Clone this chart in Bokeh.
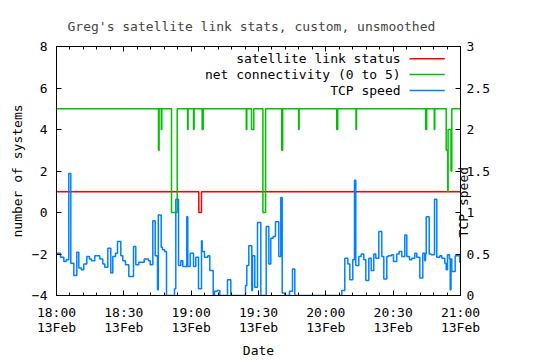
import math
from bokeh.plotting import figure
from bokeh.models import Range1d, LinearAxis, FixedTicker, Label, Arrow
from bokeh.embed import file_html
from bokeh.resources import INLINE

# ---- data: time in minutes after 18:00, 13 Feb ----
tcp_t = [0.0, 1.78, 3.25, 4.32, 5.48, 6.37, 7.71, 9.04, 9.94, 11.14, 12.16, 13.50, 14.70, 15.59,
         17.06, 19.29, 20.63, 21.52, 22.86, 24.19, 25.08, 26.29, 27.18, 28.65, 29.54, 30.74,
         32.21, 34.31, 35.33, 36.67, 39.07, 40.99, 41.75, 42.91, 43.98, 45.00, 45.36, 46.65,
         47.23, 48.12, 49.01, 52.57, 53.15, 54.36, 55.38, 56.27, 58.05, 58.50, 59.57, 61.04,
         62.06, 63.27, 64.60, 64.91, 65.94, 67.41, 68.30, 69.82, 70.40, 71.60, 72.76, 76.19,
         77.66, 84.21, 84.79, 85.68, 87.01, 87.33, 88.35, 89.55, 91.03, 93.43, 94.59, 95.48,
         96.55, 97.57, 99.04, 99.94, 100.56, 101.72, 103.81, 105.15, 106.17, 127.11, 128.45,
         129.79, 130.68, 132.01, 132.77, 133.35, 134.69, 135.76, 136.91, 137.81, 139.14,
         140.21, 141.37, 142.26, 143.60, 144.93, 145.83, 147.16, 147.92, 149.26, 150.15,
         151.62, 152.69, 153.85, 155.18, 156.08, 157.28, 158.30, 159.64, 160.53, 161.87,
         163.20, 164.09, 164.41, 164.72, 166.05, 166.95, 168.42, 169.44, 170.78, 171.67,
         173.01, 173.63, 174.21, 175.10, 175.42, 175.77, 176.12, 177.63, 179.68]
tcp_v = [0.51, 0.46, 0.41, 0.43, 1.47, 0.39, 0.24, 0.52, 0.33, 0.31, 0.38, 0.47, 0.44, 0.42,
         0.48, 0.44, 0.38, 0.34, 0.57, 0.27, 0.47, 0.51, 0.65, 0.48, 0.42, 0.37,
         0.23, 0.59, 0.37, 0.40, 0.44, 0.42, 0.37, 0.90, 0.48, 0.07, 0.97, 0.58,
         0.55, 0.53, 0.0, 0.08, 1.16, 0.36, 0.42, 0.35, 0.95, 0.35, 0.51, 0.35,
         0.46, 0.08, 0.66, 0.53, 0.46, 0.48, 0.30, 0.0, 0.05, 0.06, 0.0, 0.19,
         0.0, 0.12, 0.36, 0.60, 0.06, 0.48, 0.10, 0.88, 0.0, 0.83, 0.38, 0.69,
         0.71, 0.89, 0.47, 1.18, 0.03, 0.0, 0.05, 0.32, 0.0, 0.06, 0.45,
         0.38, 0.19, 0.43, 1.39, 0.36, 0.47, 0.50, 0.43, 0.18, 0.45,
         0.30, 0.50, 0.45, 0.77, 0.47, 0.20, 0.47, 0.48, 0.49, 0.41,
         0.50, 0.53, 0.47, 0.73, 0.47, 0.43, 0.45, 0.51, 0.46, 0.21,
         0.51, 0.42, 0.50, 0.95, 0.50, 0.49, 1.16, 0.46, 0.48, 0.45,
         0.39, 0.31, 0.49, 0.44, 0.07, 0.44, 0.29, 0.48, 0.40]

net_t = [0.0, 45.44, 45.71, 46.69, 46.91, 51.24, 53.78, 58.41, 58.63, 61.08, 61.31, 64.91,
         65.36, 84.56, 84.79, 86.88, 87.90, 91.96, 93.16, 100.34, 100.78, 107.87, 108.09,
         124.84, 125.29, 133.44, 133.66, 164.49, 164.94, 168.32, 168.54, 173.63, 174.34,
         174.48, 175.77, 176.12]
net_v = [5, 3, 5, 4, 5, 0, 5, 4, 5, 4, 5, 4,
         5, 4, 5, 4, 5, 0, 5, 3, 5, 4, 5,
         4, 5, 4, 5, 4, 5, 4, 5, 3, 1,
         4, 2, 5]

link_t = [0.0, 63.40, 64.60]
link_v = [1, 0, 1]

x_ticks = [0, 30, 60, 90, 120, 150, 180]
x_minor = list(range(0, 181, 6))
x_tick_labels = ["18:00\n13Feb", "18:30\n13Feb", "19:00\n13Feb", "19:30\n13Feb",
                 "20:00\n13Feb", "20:30\n13Feb", "21:00\n13Feb"]
y_ticks = [-4, -2, 0, 2, 4, 6, 8]
y2_ticks = [0, 0.5, 1, 1.5, 2, 2.5, 3]
y2_tick_labels = ["0", "0.5", "1", "1.5", "2", "2.5", "3"]

series_names = ["satellite link status", "net connectivity (0 to 5)", "TCP speed"]
series_colors = ["#ff0000", "#00c000", "#0080ff"]

FONT = "DejaVu Sans Mono"
FS = "13px"
T_END = 180

p = figure(width=540, height=360, x_range=Range1d(0, T_END), y_range=Range1d(-4, 8),
           output_backend="svg", toolbar_location=None,
           min_border_left=56, min_border_right=80, min_border_top=46, min_border_bottom=65)
p.extra_y_ranges = {"tcp": Range1d(0, 3)}
p.background_fill_color = "white"
p.border_fill_color = "white"
p.outline_line_color = "black"
p.outline_line_width = 1
p.xgrid.visible = False
p.ygrid.visible = False

p.title.text = "Greg's satellite link stats, custom, unsmoothed"
p.title.text_font = FONT
p.title.text_font_size = FS
p.title.text_font_style = "normal"
p.title.align = "left"
p.title.offset = 11
p.title.standoff = 26


def style_axis(ax):
    ax.major_tick_in = 5
    ax.major_tick_out = 0
    ax.minor_tick_in = 3
    ax.minor_tick_out = 0
    ax.axis_line_color = "black"
    ax.major_tick_line_color = "black"
    ax.minor_tick_line_color = "black"
    ax.major_label_text_font = FONT
    ax.major_label_text_font_size = FS
    ax.major_label_text_color = "black"
    ax.axis_label_text_font = FONT
    ax.axis_label_text_font_size = FS
    ax.axis_label_text_font_style = "normal"
    ax.axis_label_text_color = "black"


xax = p.xaxis[0]
style_axis(xax)
xax.ticker = FixedTicker(ticks=x_ticks, minor_ticks=x_minor)
xax.major_label_overrides = {t: lab for t, lab in zip(x_ticks, x_tick_labels)}
xax.major_label_text_line_height = 1.03
xax.axis_label = "Date"
xax.major_label_standoff = 9
xax.axis_label_standoff = 5

yax = p.yaxis[0]
style_axis(yax)
yax.ticker = FixedTicker(ticks=y_ticks, minor_ticks=[])
yax.axis_label = "number of systems"
yax.major_label_standoff = 9
yax.axis_label_standoff = 4

# mirrored ticks on the top edge (no labels)
top = LinearAxis(ticker=FixedTicker(ticks=x_ticks, minor_ticks=x_minor))
style_axis(top)
top.major_label_overrides = {t: "" for t in x_ticks}
top.major_label_text_font_size = "0px"
top.major_label_standoff = 0
p.add_layout(top, "above")

# second y axis for TCP speed
right = LinearAxis(y_range_name="tcp", ticker=FixedTicker(ticks=y2_ticks, minor_ticks=[]))
style_axis(right)
right.major_label_overrides = {t: lab for t, lab in zip(y2_ticks, y2_tick_labels)}
right.major_label_standoff = 6
p.add_layout(right, "right")

# the y2 axis title, drawn where gnuplot put it (over the y2 tick labels)
y2_title_at = 0.70
y2_title = LinearAxis(y_range_name="tcp", ticker=FixedTicker(ticks=[y2_title_at], minor_ticks=[]))
style_axis(y2_title)
y2_title.axis_line_color = None
y2_title.major_tick_line_color = None
y2_title.major_tick_in = 0
y2_title.minor_tick_in = 0
y2_title.major_label_overrides = {y2_title_at: "TCP speed"}
y2_title.major_label_orientation = math.pi / 2
y2_title.major_label_standoff = -29
p.add_layout(y2_title, "right")

# series
p.step(x=link_t + [T_END], y=link_v + [link_v[-1]], mode="after",
       line_color=series_colors[0], line_width=1.5)
p.step(x=net_t + [T_END], y=net_v + [net_v[-1]], mode="after",
       line_color=series_colors[1], line_width=1.5)
p.step(x=tcp_t + [T_END], y=tcp_v + [tcp_v[-1]], mode="after",
       line_color=series_colors[2], line_width=1.5, y_range_name="tcp")

# gnuplot-style key (text right-aligned, sample line to its right)
key_text_x = 153.3
key_line_x0, key_line_x1 = 157.3, 173.0
key_rows_y = [7.41, 6.65, 5.88]
for name, col, ky in zip(series_names, series_colors, key_rows_y):
    p.add_layout(Label(x=key_text_x, y=ky, text=name, text_align="right",
                       text_baseline="middle", text_font=FONT, text_font_size=FS,
                       text_color="black"))
    p.add_layout(Arrow(end=None, x_start=key_line_x0, y_start=ky, x_end=key_line_x1,
                       y_end=ky, line_color=col, line_width=1.5))

open("out.html", "w").write(file_html(p, INLINE))
